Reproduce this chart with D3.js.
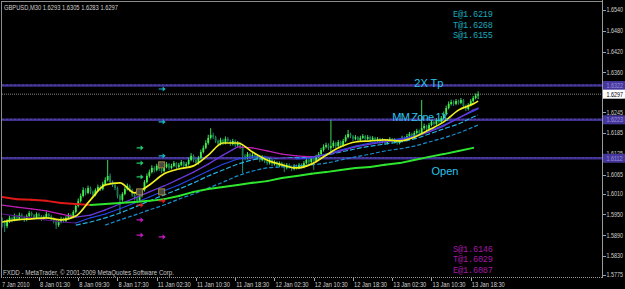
<!DOCTYPE html>
<html><head><meta charset="utf-8">
<script src="https://cdn.jsdelivr.net/npm/d3@7"></script>
<style>html,body{margin:0;padding:0;background:#000;overflow:hidden}</style>
</head><body>
<svg id="c" width="625" height="289"></svg>
<script>
// ---------- DATA ----------
const openP = [
1.5935,1.5928,1.5916,1.5931,1.5940,1.5934,1.5945,1.5937,1.5948,1.5942,
1.5934,1.5945,1.5954,1.5948,1.5940,1.5951,1.5945,1.5937,1.5942,1.5951,
1.5945,1.5937,1.5931,1.5919,1.5928,1.5937,1.5931,1.5940,1.5948,1.5942,
1.5957,1.5974,1.5989,1.6003,1.6020,1.6012,1.6026,1.6015,1.6006,1.6020,
1.6029,1.6023,1.6038,1.6049,1.6061,1.6043,1.6035,1.6026,1.6003,1.5992,
1.6009,1.6023,1.6032,1.6020,1.6006,1.5997,1.5989,1.6003,1.6020,1.6043,
1.6061,1.6072,1.6084,1.6078,1.6090,1.6081,1.6075,1.6087,1.6095,1.6084,
1.6090,1.6098,1.6087,1.6093,1.6101,1.6090,1.6095,1.6107,1.6119,1.6107,
1.6098,1.6113,1.6130,1.6142,1.6156,1.6171,1.6179,1.6173,1.6162,1.6153,
1.6165,1.6156,1.6168,1.6162,1.6153,1.6162,1.6150,1.6156,1.6145,1.6119,
1.6113,1.6124,1.6116,1.6121,1.6113,1.6119,1.6107,1.6116,1.6104,1.6098,
1.6107,1.6095,1.6101,1.6090,1.6098,1.6093,1.6084,1.6093,1.6087,1.6081,
1.6090,1.6084,1.6093,1.6087,1.6098,1.6107,1.6101,1.6113,1.6104,1.6116,
1.6124,1.6136,1.6145,1.6150,1.6142,1.6147,1.6156,1.6147,1.6159,1.6150,
1.6162,1.6173,1.6182,1.6176,1.6168,1.6173,1.6165,1.6171,1.6176,1.6168,
1.6173,1.6165,1.6171,1.6162,1.6168,1.6159,1.6165,1.6156,1.6162,1.6168,
1.6159,1.6165,1.6156,1.6162,1.6171,1.6165,1.6176,1.6182,1.6176,1.6185,
1.6191,1.6185,1.6199,1.6205,1.6197,1.6208,1.6217,1.6211,1.6222,1.6217,
1.6228,1.6240,1.6257,1.6269,1.6274,1.6269,1.6277,1.6272,1.6280,1.6263,
1.6254,1.6266,1.6277,1.6286,1.6293];
const highP = [
1.5941,1.5933,1.5936,1.5946,1.5944,1.5952,1.5949,1.5955,1.5953,1.5946,
1.5950,1.5960,1.5958,1.5951,1.5956,1.5955,1.5948,1.5947,1.5957,1.5954,
1.5949,1.5941,1.5934,1.5933,1.5943,1.5941,1.5945,1.5954,1.5952,1.5962,
1.5980,1.5996,1.6010,1.6028,1.6026,1.6033,1.6030,1.6019,1.6025,1.6036,
1.6034,1.6044,1.6057,1.6107,1.6068,1.6048,1.6039,1.6030,1.6008,1.6014,
1.6029,1.6039,1.6036,1.6024,1.6010,1.6001,1.6008,1.6026,1.6049,1.6068,
1.6079,1.6092,1.6089,1.6096,1.6094,1.6085,1.6093,1.6101,1.6098,1.6096,
1.6104,1.6101,1.6099,1.6107,1.6104,1.6101,1.6114,1.6127,1.6123,1.6111,
1.6119,1.6137,1.6149,1.6164,1.6180,1.6199,1.6186,1.6177,1.6166,1.6171,
1.6169,1.6175,1.6173,1.6166,1.6168,1.6166,1.6162,1.6159,1.6149,1.6124,
1.6130,1.6128,1.6127,1.6125,1.6124,1.6122,1.6121,1.6119,1.6108,1.6112,
1.6110,1.6106,1.6104,1.6103,1.6102,1.6097,1.6098,1.6097,1.6091,1.6095,
1.6094,1.6098,1.6097,1.6104,1.6113,1.6111,1.6118,1.6117,1.6122,1.6130,
1.6142,1.6152,1.6157,1.6155,1.6222,1.6163,1.6160,1.6165,1.6163,1.6168,
1.6180,1.6194,1.6186,1.6179,1.6179,1.6176,1.6177,1.6182,1.6179,1.6179,
1.6177,1.6176,1.6174,1.6173,1.6171,1.6170,1.6168,1.6167,1.6173,1.6171,
1.6170,1.6168,1.6167,1.6177,1.6175,1.6182,1.6188,1.6186,1.6191,1.6197,
1.6195,1.6280,1.6212,1.6209,1.6214,1.6223,1.6221,1.6228,1.6226,1.6234,
1.6247,1.6264,1.6276,1.6281,1.6279,1.6283,1.6281,1.6286,1.6283,1.6267,
1.6271,1.6283,1.6292,1.6299,1.6305];
const lowP = [
1.5912,1.5899,1.5910,1.5925,1.5927,1.5930,1.5932,1.5933,1.5936,1.5928,
1.5930,1.5941,1.5943,1.5934,1.5936,1.5939,1.5931,1.5933,1.5938,1.5940,
1.5932,1.5924,1.5908,1.5914,1.5924,1.5926,1.5927,1.5936,1.5937,1.5939,
1.5953,1.5970,1.5984,1.5999,1.6005,1.6008,1.6009,1.5998,1.6002,1.6016,
1.6017,1.6019,1.6034,1.6045,1.6038,1.6029,1.6020,1.5996,1.5954,1.5987,
1.6005,1.6019,1.6015,1.6001,1.5990,1.5982,1.5985,1.5999,1.6016,1.6039,
1.6056,1.6068,1.6071,1.6074,1.6075,1.6069,1.6071,1.6083,1.6078,1.6080,
1.6086,1.6081,1.6083,1.6089,1.6084,1.6086,1.6091,1.6103,1.6100,1.6092,
1.6094,1.6109,1.6126,1.6138,1.6151,1.6166,1.6167,1.6156,1.6147,1.6149,
1.6150,1.6152,1.6157,1.6147,1.6149,1.6144,1.6146,1.6139,1.6069,1.6106,
1.6109,1.6110,1.6112,1.6107,1.6109,1.6101,1.6103,1.6098,1.6092,1.6094,
1.6089,1.6091,1.6084,1.6086,1.6088,1.6072,1.6080,1.6082,1.6075,1.6077,
1.6079,1.6080,1.6082,1.6083,1.6094,1.6095,1.6097,1.6078,1.6100,1.6112,
1.6120,1.6131,1.6140,1.6136,1.6125,1.6142,1.6141,1.6143,1.6145,1.6146,
1.6158,1.6169,1.6170,1.6162,1.6164,1.6160,1.6161,1.6167,1.6163,1.6164,
1.6160,1.6161,1.6157,1.6158,1.6154,1.6155,1.6151,1.6152,1.6158,1.6154,
1.6155,1.6151,1.6152,1.6158,1.6160,1.6161,1.6172,1.6171,1.6172,1.6181,
1.6180,1.6181,1.6194,1.6191,1.6193,1.6204,1.6206,1.6207,1.6212,1.6213,
1.6224,1.6236,1.6253,1.6264,1.6263,1.6265,1.6267,1.6268,1.6258,1.6248,
1.6250,1.6262,1.6273,1.6282,1.6283];
const closeP = [
1.5928,1.5916,1.5931,1.5940,1.5934,1.5945,1.5937,1.5948,1.5942,1.5934,
1.5945,1.5954,1.5948,1.5940,1.5951,1.5945,1.5937,1.5942,1.5951,1.5945,
1.5937,1.5931,1.5919,1.5928,1.5937,1.5931,1.5940,1.5948,1.5942,1.5957,
1.5974,1.5989,1.6003,1.6020,1.6012,1.6026,1.6015,1.6006,1.6020,1.6029,
1.6023,1.6038,1.6049,1.6061,1.6043,1.6035,1.6026,1.6003,1.5992,1.6009,
1.6023,1.6032,1.6020,1.6006,1.5997,1.5989,1.6003,1.6020,1.6043,1.6061,
1.6072,1.6084,1.6078,1.6090,1.6081,1.6075,1.6087,1.6095,1.6084,1.6090,
1.6098,1.6087,1.6093,1.6101,1.6090,1.6095,1.6107,1.6119,1.6107,1.6098,
1.6113,1.6130,1.6142,1.6156,1.6171,1.6179,1.6173,1.6162,1.6153,1.6165,
1.6156,1.6168,1.6162,1.6153,1.6162,1.6150,1.6156,1.6145,1.6119,1.6113,
1.6124,1.6116,1.6121,1.6113,1.6119,1.6107,1.6116,1.6104,1.6098,1.6107,
1.6095,1.6101,1.6090,1.6098,1.6093,1.6084,1.6093,1.6087,1.6081,1.6090,
1.6084,1.6093,1.6087,1.6098,1.6107,1.6101,1.6113,1.6104,1.6116,1.6124,
1.6136,1.6145,1.6150,1.6142,1.6147,1.6156,1.6147,1.6159,1.6150,1.6162,
1.6173,1.6182,1.6176,1.6168,1.6173,1.6165,1.6171,1.6176,1.6168,1.6173,
1.6165,1.6171,1.6162,1.6168,1.6159,1.6165,1.6156,1.6162,1.6168,1.6159,
1.6165,1.6156,1.6162,1.6171,1.6165,1.6176,1.6182,1.6176,1.6185,1.6191,
1.6185,1.6199,1.6205,1.6197,1.6208,1.6217,1.6211,1.6222,1.6217,1.6228,
1.6240,1.6257,1.6269,1.6274,1.6269,1.6277,1.6272,1.6280,1.6263,1.6254,
1.6266,1.6277,1.6286,1.6293,1.6297];

const timeLabels = ["7 Jan 2010","8 Jan 01:30","8 Jan 09:30","8 Jan 17:30","11 Jan 02:30","11 Jan 10:30",
  "11 Jan 18:30","12 Jan 02:30","12 Jan 10:30","12 Jan 18:30","13 Jan 02:30","13 Jan 10:30","13 Jan 18:30"];
const timeIdx = [0,15,31,47,63,79,95,111,127,143,159,175,191];
const priceTicks = [1.6540,1.6480,1.6420,1.6360,1.6245,1.6185,1.6125,1.6065,1.6010,1.5950,1.5890,1.5830,1.5775];

// indicator lines, sampled at these bar indices
const maIdx = [0,6,12,18,24,30,36,42,48,54,60,66,72,78,84,90,96,102,108,114,120,126,132,138,144,150,156,162,168,174,180,186,192,194];
const fastMA = [1.5928,1.5934,1.5937,1.5940,1.5934,1.5945,1.5992,1.6035,1.6041,1.6012,1.6035,1.6067,1.6081,1.6090,1.6121,1.6156,1.6156,1.6130,1.6107,1.6093,1.6084,1.6095,1.6121,1.6145,1.6159,1.6162,1.6165,1.6162,1.6173,1.6194,1.6217,1.6251,1.6269,1.6277];
const slowMA = [1.6000,1.5994,1.5992,1.5989,1.5983,1.5980,1.5977,1.5980,1.5983,1.5986,1.5989,1.5994,1.6003,1.6015,1.6023,1.6029,1.6035,1.6041,1.6046,1.6055,1.6061,1.6067,1.6072,1.6078,1.6084,1.6087,1.6093,1.6098,1.6107,1.6116,1.6124,1.6133,1.6142,null];
const midMA = [1.5977,1.5971,1.5966,1.5960,1.5951,1.5942,1.5948,1.5963,1.5980,1.5997,1.6015,1.6032,1.6052,1.6072,1.6095,1.6121,1.6145,1.6142,1.6133,1.6124,1.6119,1.6116,1.6121,1.6133,1.6145,1.6153,1.6159,1.6165,1.6173,1.6188,1.6205,1.6228,1.6251,1.6257];
const blueMA = [1.5951,1.5945,1.5940,1.5934,1.5928,1.5925,1.5940,1.5951,1.5966,1.5983,1.6000,1.6018,1.6035,1.6055,1.6075,1.6095,1.6110,1.6116,1.6116,1.6113,1.6110,1.6113,1.6124,1.6136,1.6147,1.6156,1.6162,1.6168,1.6176,1.6191,1.6208,1.6228,1.6248,1.6254];
const cyanA = [null,null,null,null,null,1.5919,1.5928,1.5940,1.5954,1.5971,1.5989,1.6006,1.6023,1.6041,1.6061,1.6078,1.6095,1.6107,1.6113,1.6113,1.6113,1.6116,1.6121,1.6130,1.6139,1.6147,1.6153,1.6159,1.6168,1.6182,1.6197,1.6211,1.6231,1.6237];
const cyanB = [null,null,null,null,null,null,null,1.5919,1.5934,1.5948,1.5963,1.5977,1.5994,1.6009,1.6026,1.6043,1.6061,1.6075,1.6084,1.6087,1.6090,1.6093,1.6098,1.6107,1.6116,1.6124,1.6133,1.6139,1.6147,1.6159,1.6171,1.6185,1.6202,1.6208];

const levelValues = [1.6322, 1.6223, 1.6112];
const levelNames = ["2X Tp", "MM Zone 1X", "Open"];
const levelTextIdx = [168, 159, 175];
const levelTextPrice = [1.6318, 1.6220, 1.6064];
const currentPrice = 1.6297;
const upperInfo = ["E@1.6219", "T@1.6268", "S@1.6155"];
const lowerInfo = ["S@1.6146", "T@1.6029", "E@1.6087"];

const arrowIdx = [56,56,56,65,65,65,56,65,56,56,65];
const arrowPrice = [1.6142,1.6098,1.6058,1.6312,1.6217,1.6119,1.5977,1.5989,1.5934,1.5890,1.5885];
const arrowKind = ["buy","buy","buy","tp","tp","tp","stop","stop","sell","sell","sell"];
const squareIdx = [56,65,65];
const squarePrice = [1.6015,1.6015,1.6093];

const titleText = "GBPUSD,M30  1.6293 1.6305 1.6283 1.6297";
const copyText = "FXDD - MetaTrader, \u00A9 2001-2009 MetaQuotes Software Corp.";

// ---------- DRAW ----------
const W = 625, H = 289;
const plotR = 602, plotB = 277;
const svg = d3.select("#c");
svg.append("rect").attr("width", W).attr("height", H).attr("fill", "#000");

const x = d3.scaleLinear().domain([0, 194]).range([2.2, 478.1]);
const y = d3.scaleLinear().domain([1.5775, 1.6540]).range([275, 10]);
const FONT = "Liberation Sans, Arial, sans-serif";

svg.append("clipPath").attr("id", "pc").append("rect")
  .attr("x", 2).attr("y", 2).attr("width", plotR - 2).attr("height", plotB - 2);
const plot = svg.append("g").attr("clip-path", "url(#pc)");

// level lines
plot.selectAll("line.lvl").data(levelValues).join("line")
  .attr("x1", 2).attr("x2", plotR).attr("y1", d => y(d)).attr("y2", d => y(d))
  .attr("stroke", "#3f3190").attr("stroke-width", 2.4);
plot.selectAll("line.lvl2").data(levelValues).join("line")
  .attr("x1", 2).attr("x2", plotR).attr("y1", d => y(d) - 0.5).attr("y2", d => y(d) - 0.5)
  .attr("stroke", "#5c4eb0").attr("stroke-width", 0.8).attr("stroke-dasharray", "2,2");
// current price line
plot.append("line").attr("x1", 2).attr("x2", plotR)
  .attr("y1", y(currentPrice)).attr("y2", y(currentPrice))
  .attr("stroke", "#808080").attr("stroke-width", 1).attr("stroke-dasharray", "1,1");

// candles
const bars = d3.range(closeP.length);
const wickBull = "#3cd860", wickBear = "#1f8f7a", bodyBull = "#42f04a", bodyBear = "#1a7a4e";
plot.selectAll("line.wick").data(bars).join("line")
  .attr("x1", i => x(i)).attr("x2", i => x(i))
  .attr("y1", i => y(highP[i])).attr("y2", i => y(lowP[i]))
  .attr("stroke", i => closeP[i] >= openP[i] ? wickBull : wickBear).attr("stroke-width", 1);
plot.selectAll("rect.body").data(bars).join("rect")
  .attr("x", i => x(i) - 0.9).attr("width", 1.8)
  .attr("y", i => y(Math.max(openP[i], closeP[i])))
  .attr("height", i => Math.max(1, Math.abs(y(openP[i]) - y(closeP[i]))))
  .attr("fill", i => closeP[i] >= openP[i] ? bodyBull : bodyBear);

// indicator lines
function segLine(vals, upColor, downColor, width, dash) {
  const segs = [];
  for (let k = 0; k < maIdx.length - 1; k++) {
    if (vals[k] == null || vals[k + 1] == null) continue;
    segs.push({ a: k, b: k + 1, up: vals[k + 1] >= vals[k] });
  }
  plot.append("g").selectAll("line").data(segs).join("line")
    .attr("x1", s => x(maIdx[s.a])).attr("y1", s => y(vals[s.a]))
    .attr("x2", s => x(maIdx[s.b])).attr("y2", s => y(vals[s.b]))
    .attr("stroke", s => s.up ? upColor : downColor)
    .attr("stroke-width", width).attr("stroke-linecap", "round")
    .attr("stroke-dasharray", dash || null);
}
function plainLine(vals, color, width, dash) {
  const pts = maIdx.map((i, k) => [i, vals[k]]).filter(p => p[1] != null);
  plot.append("path").datum(pts)
    .attr("d", d3.line().x(p => x(p[0])).y(p => y(p[1])).curve(d3.curveMonotoneX))
    .attr("fill", "none").attr("stroke", color).attr("stroke-width", width)
    .attr("stroke-dasharray", dash || null);
}
plainLine(cyanB, "#1a8fd0", 1.2, "4,2");
plainLine(cyanA, "#24b4e8", 1.2, "5,2");
segLine(blueMA, "#2848e8", "#5a1890", 1.1);
segLine(midMA, "#6a38d8", "#c020b8", 1.3);
segLine(slowMA, "#2ee62e", "#e01818", 2);
plainLine(fastMA, "#f0f020", 1.7);

// arrows and squares
const arrowColor = { buy: "#22c868", tp: "#18b4cc", stop: "#e02020", sell: "#c41cc4" };
const ag = plot.append("g");
arrowIdx.forEach((bi, k) => {
  const cx = x(bi), cy = y(arrowPrice[k]);
  ag.append("path")
    .attr("d", `M${cx-3},${cy-0.6}h4v-2l3,2.6l-3,2.6v-2h-4z`)
    .attr("fill", arrowColor[arrowKind[k]]);
});
squareIdx.forEach((bi, k) => {
  ag.append("rect").attr("x", x(bi) - 3).attr("y", y(squarePrice[k]) - 3)
    .attr("width", 6).attr("height", 6)
    .attr("fill", "#4a4a40").attr("stroke", "#a08a40").attr("stroke-width", 1);
});

// level texts
plot.selectAll("text.lvlname").data(levelNames).join("text")
  .attr("x", (d, k) => x(levelTextIdx[k])).attr("y", (d, k) => y(levelTextPrice[k]))
  .attr("font-family", FONT).attr("font-size", 11).attr("fill", "#2cc4ee")
  .attr("textLength", d => d === "MM Zone 1X" ? 56 : null)
  .text(d => d);

// info texts
svg.selectAll("text.up").data(upperInfo).join("text")
  .attr("x", 453).attr("y", (d, k) => 17 + k * 10.5)
  .attr("font-family", "Liberation Mono, DejaVu Sans Mono, monospace").attr("font-size", 8.6)
  .attr("fill", "#1aa8bc").attr("textLength", 40).text(d => d);
svg.selectAll("text.lo").data(lowerInfo).join("text")
  .attr("x", 453).attr("y", (d, k) => 251.5 + k * 10.5)
  .attr("font-family", "Liberation Mono, DejaVu Sans Mono, monospace").attr("font-size", 8.6)
  .attr("fill", "#a418a4").attr("textLength", 40).text(d => d);

// frame
svg.append("line").attr("x1", 1.5).attr("x2", 1.5).attr("y1", 1).attr("y2", plotB).attr("stroke", "#8c8c8c");
svg.append("line").attr("x1", 1).attr("x2", plotR).attr("y1", 1.5).attr("y2", 1.5).attr("stroke", "#8c8c8c");
svg.append("line").attr("x1", plotR + 0.5).attr("x2", plotR + 0.5).attr("y1", 0).attr("y2", plotB + 1).attr("stroke", "#9a9a9a");
svg.append("line").attr("x1", 1).attr("x2", plotR).attr("y1", plotB + 0.5).attr("y2", plotB + 0.5)
  .attr("stroke", "#9a9a9a").attr("stroke-dasharray", "1,1");

// narrow right-axis text helper (scaled horizontally so it fits the 22px gutter)
function axisText(v, color) {
  return svg.append("text")
    .attr("transform", `translate(606.5,${y(v) + 2.4}) scale(0.77,1)`)
    .attr("font-family", FONT).attr("font-size", 7).attr("fill", color)
    .text(v.toFixed(4));
}

// y axis ticks + labels
svg.selectAll("line.yt").data(priceTicks).join("line")
  .attr("x1", plotR + 1).attr("x2", plotR + 4).attr("y1", d => Math.round(y(d)) + 0.5).attr("y2", d => Math.round(y(d)) + 0.5)
  .attr("stroke", "#a0a0a0");
priceTicks.forEach(v => axisText(v, "#d0d0d0"));

// level label boxes on axis
levelValues.forEach(v => {
  svg.append("rect").attr("x", plotR + 1).attr("y", y(v) - 4.5).attr("width", W - plotR - 1).attr("height", 9)
    .attr("fill", "#45379a");
  axisText(v, "#9c90e0");
});
svg.append("rect").attr("x", plotR + 1).attr("y", y(currentPrice) - 4.5).attr("width", W - plotR - 1).attr("height", 9)
  .attr("fill", "#ffffff");
axisText(currentPrice, "#000");

// x axis ticks + labels
svg.selectAll("line.xt").data(timeIdx.slice(1)).join("line")
  .attr("x1", i => Math.round(x(i)) + 0.5).attr("x2", i => Math.round(x(i)) + 0.5)
  .attr("y1", plotB + 1).attr("y2", plotB + 4).attr("stroke", "#a0a0a0");
svg.selectAll("text.xl").data(timeLabels).join("text")
  .attr("x", (d, k) => k === 0 ? 2 : x(timeIdx[k]) + 1).attr("y", 286.5)
  .attr("font-family", FONT).attr("font-size", 7).attr("fill", "#d0d0d0")
  .attr("textLength", d => d.length * 2.75).attr("lengthAdjust", "spacingAndGlyphs")
  .text(d => d);

// title and copyright
svg.append("text").attr("x", 4).attr("y", 9.5).attr("font-family", FONT).attr("font-size", 7)
  .attr("fill", "#d0d0d0").attr("textLength", 114).attr("lengthAdjust", "spacingAndGlyphs").text(titleText);
svg.append("text").attr("x", 3).attr("y", 275).attr("font-family", FONT).attr("font-size", 7)
  .attr("fill", "#c8c8c8").attr("textLength", 171).attr("lengthAdjust", "spacingAndGlyphs").text(copyText);
</script>
</body></html>
